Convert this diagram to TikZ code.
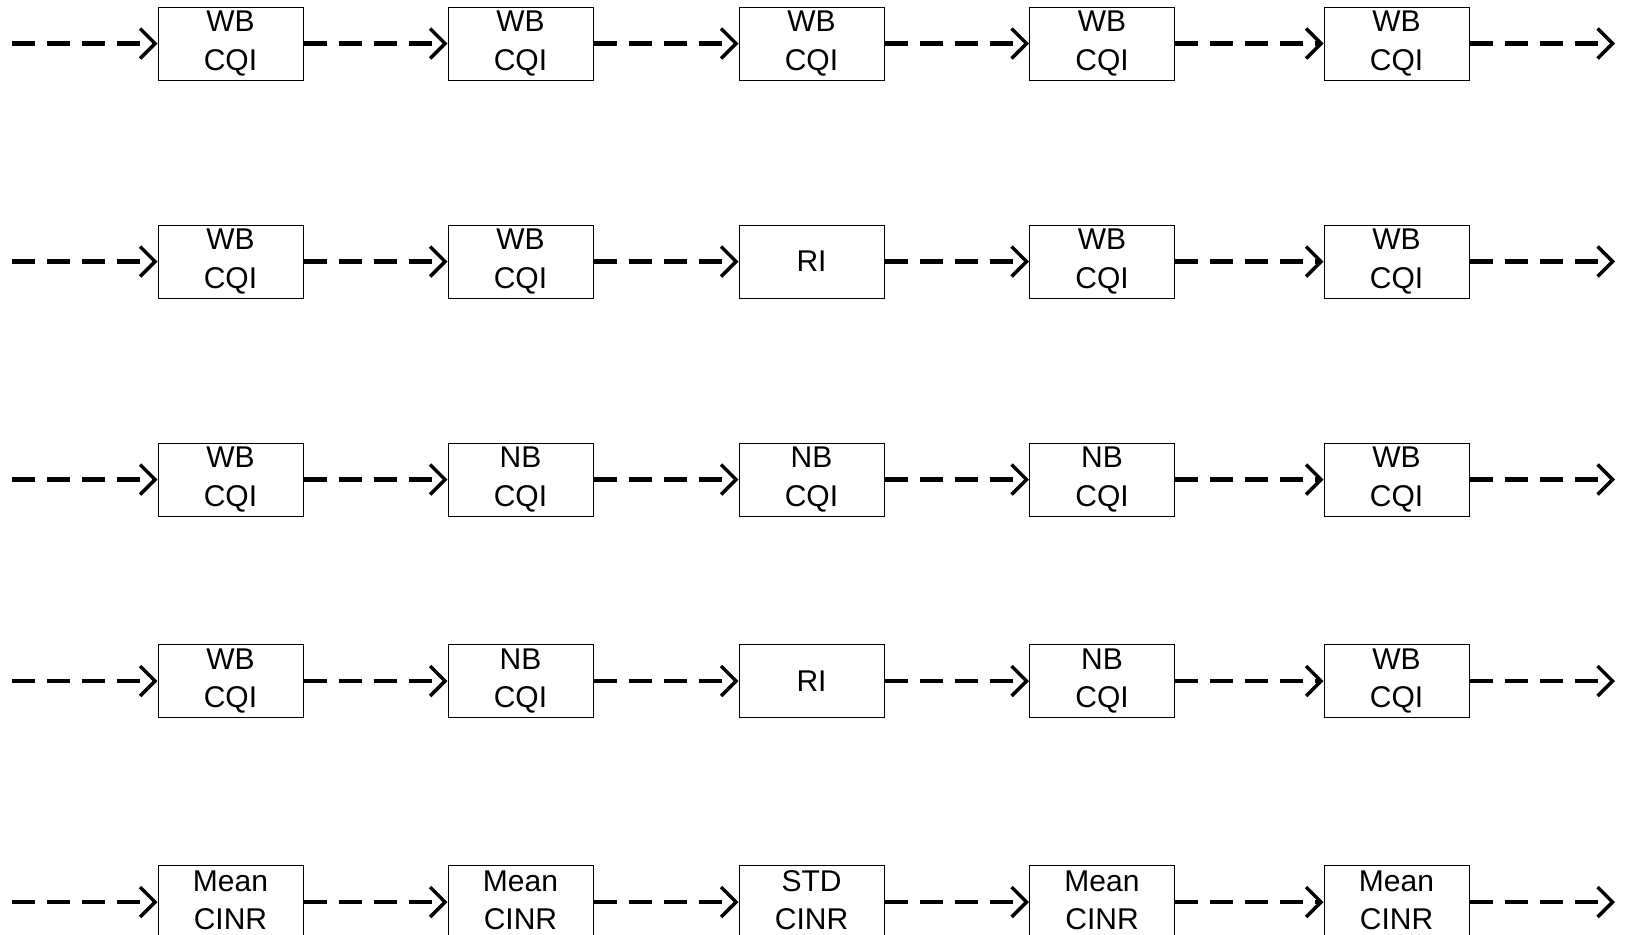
\documentclass[tikz,border=0pt]{standalone}
\usepackage{fontspec}
\setmainfont{Liberation Sans}
\usetikzlibrary{arrows.meta}
\newcommand\mydepth{\rule[-2pt]{0pt}{2pt}}
\begin{document}
\begin{tikzpicture}[x=0.5pt,y=-0.5pt,
  box/.style={draw, line width=0.5pt, minimum width=72.5pt, minimum height=36.5pt,
    inner sep=0pt, align=center, font=\fontsize{15}{19.2}\selectfont},
  flow/.style={line width=2.2pt, dash pattern=on 11.5pt off 6pt,
    -{Straight Barb[length=7.5pt,width=15pt,line width=1.75pt]}}]
\useasboundingbox (0,0) rectangle (1629,934);
% row a
\node[box] (a1) at (230.5,43.5) {WB\\CQI\mydepth};
\node[box] (a2) at (520.5,43.5) {WB\\CQI\mydepth};
\node[box] (a3) at (811.5,43.5) {WB\\CQI\mydepth};
\node[box] (a4) at (1102,43.5) {WB\\CQI\mydepth};
\node[box] (a5) at (1396.5,43.5) {WB\\CQI\mydepth};
% row b
\node[box] (b1) at (230.5,261.5) {WB\\CQI\mydepth};
\node[box] (b2) at (520.5,261.5) {WB\\CQI\mydepth};
\node[box] (b3) at (811.5,261.5) {RI};
\node[box] (b4) at (1102,261.5) {WB\\CQI\mydepth};
\node[box] (b5) at (1396.5,261.5) {WB\\CQI\mydepth};
% row c
\node[box] (c1) at (230.5,479.5) {WB\\CQI\mydepth};
\node[box] (c2) at (520.5,479.5) {NB\\CQI\mydepth};
\node[box] (c3) at (811.5,479.5) {NB\\CQI\mydepth};
\node[box] (c4) at (1102,479.5) {NB\\CQI\mydepth};
\node[box] (c5) at (1396.5,479.5) {WB\\CQI\mydepth};
% row d
\node[box] (d1) at (230.5,681) {WB\\CQI\mydepth};
\node[box] (d2) at (520.5,681) {NB\\CQI\mydepth};
\node[box] (d3) at (811.5,681) {RI};
\node[box] (d4) at (1102,681) {NB\\CQI\mydepth};
\node[box] (d5) at (1396.5,681) {WB\\CQI\mydepth};
% row e
\node[box] (e1) at (230.5,902) {Mean\\CINR\mydepth};
\node[box] (e2) at (520.5,902) {Mean\\CINR\mydepth};
\node[box] (e3) at (811.5,902) {STD\\CINR\mydepth};
\node[box] (e4) at (1102,902) {Mean\\CINR\mydepth};
\node[box] (e5) at (1396.5,902) {Mean\\CINR\mydepth};
% free ends
\foreach \r/\y in {a/43.5,b/261.5,c/479.5,d/681,e/902}{
  \coordinate (\r0) at (12,\y);
  \coordinate (\r6) at (1615,\y);
}
\foreach \r in {a,b,c,d,e}{
  \foreach \i/\j in {0/1,1/2,2/3,3/4,4/5,5/6}{
    \draw[flow] (\r\i) -- (\r\j);
  }
}
\end{tikzpicture}
\end{document}
